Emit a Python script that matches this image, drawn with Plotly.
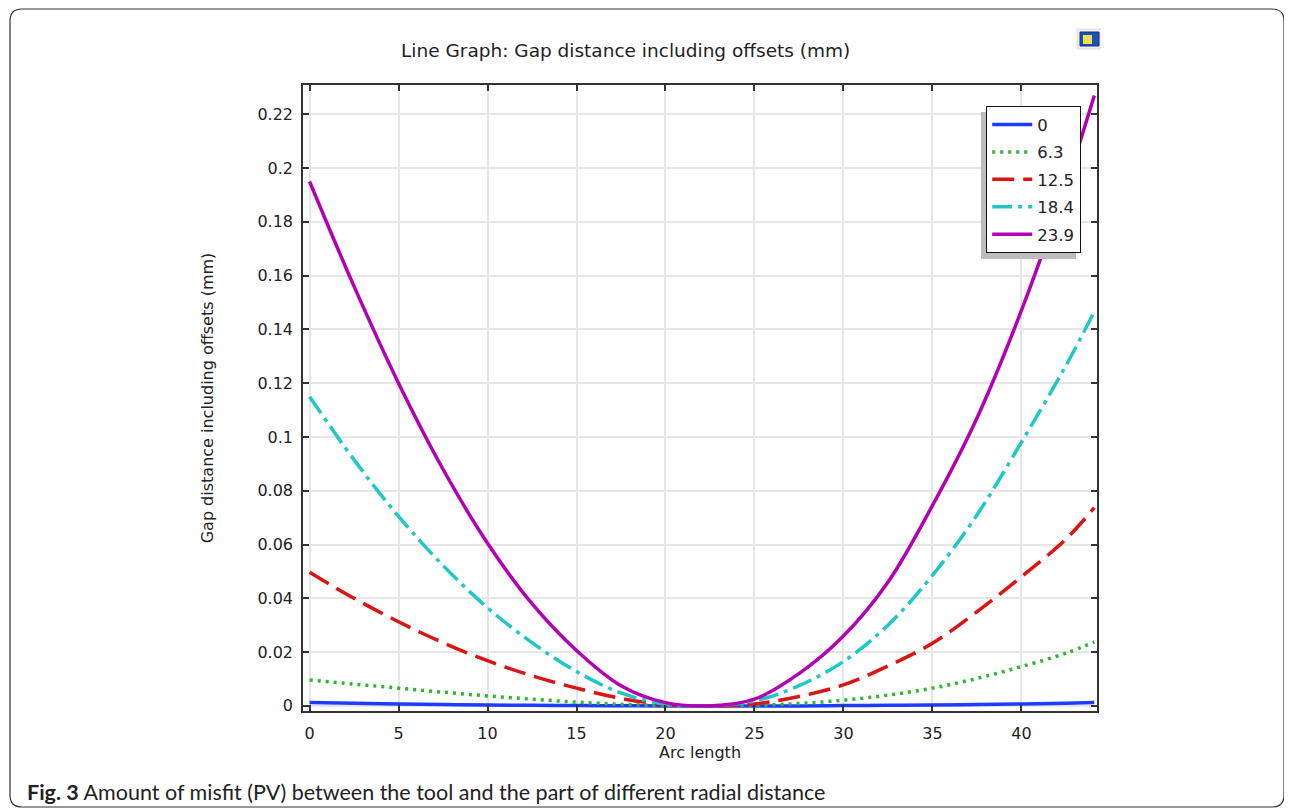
import plotly.graph_objects as go

# ---------------- data ----------------
arc_length = [0, 2.5, 5, 7.5, 10, 12.5, 15, 17.5, 20, 22.5, 25,
              27.5, 30, 32.5, 35, 37.5, 40, 42.5, 44.1]

series_names = ["0", "6.3", "12.5", "18.4", "23.9"]

gap_r0 = [0.0013, 0.0010, 0.0007, 0.0005, 0.0003, 0.0002, 0.0001, 0.00005, 0.0, 0.0, 0.0,
          0.0, 0.0001, 0.0002, 0.0003, 0.0005, 0.0007, 0.0010, 0.0013]
gap_r63 = [0.0096, 0.0081, 0.0066, 0.0051, 0.0037, 0.0025, 0.0014, 0.0006, 0.0001, 0.0, 0.0002,
           0.0009, 0.0021, 0.0040, 0.0066, 0.0102, 0.0146, 0.0196, 0.0238]
gap_r125 = [0.0497, 0.0400, 0.0313, 0.0235, 0.0168, 0.0112, 0.0066, 0.0028, 0.0005, 0.0, 0.0007,
            0.0035, 0.0078, 0.0148, 0.0233, 0.0350, 0.0480, 0.0620, 0.0737]
gap_r184 = [0.1150, 0.0915, 0.0705, 0.0522, 0.0365, 0.0235, 0.0128, 0.0048, 0.0006, 0.0, 0.0018,
            0.0075, 0.0165, 0.0300, 0.0485, 0.0710, 0.0980, 0.1265, 0.1466]
gap_r239 = [0.1950, 0.1560, 0.1200, 0.0880, 0.0605, 0.0380, 0.0206, 0.0075, 0.0012, 0.0, 0.0025,
            0.0120, 0.0260, 0.0460, 0.0745, 0.1070, 0.1470, 0.1935, 0.2270]

x_ticks = [0, 5, 10, 15, 20, 25, 30, 35, 40]
y_ticks = [0, 0.02, 0.04, 0.06, 0.08, 0.1, 0.12, 0.14, 0.16, 0.18, 0.2, 0.22]
y_tick_labels = ["0", "0.02", "0.04", "0.06", "0.08", "0.1", "0.12", "0.14", "0.16", "0.18", "0.2", "0.22"]

series_values = [gap_r0, gap_r63, gap_r125, gap_r184, gap_r239]

# ---------------- styles ----------------
colors = ["#1e3cff", "#2fb52f", "#dc1414", "#1ec8c8", "#b400b4"]
dashes = ["solid", "3px,5px", "22px,9px", "20px,6px,4px,6px", "solid"]

OFF = 8                      # page body margin of the html page
W, H = 1284, 802
ML, MR, MT, MB = 295, 195, 77, 99
PW, PH = W - ML - MR, H - MT - MB


def px(x):                   # page pixel -> paper x
    return (x - OFF - ML) / PW


def py(y):                   # page pixel -> paper y
    return (H - MB - (y - OFF)) / PH


fig = go.Figure()
for name, vals, c, d in zip(series_names, series_values, colors, dashes):
    fig.add_trace(go.Scatter(
        x=arc_length, y=vals, mode="lines", name=name, legendgroup=name,
        line=dict(color=c, width=3.5, dash=d, shape="spline", smoothing=1.0),
    ))

FONT = "DejaVu Sans"
axis_common = dict(
    showline=True, linecolor="#333333", linewidth=1.5, mirror="ticks",
    ticks="inside", ticklen=6, tickcolor="#333333", tickwidth=1.5,
    showgrid=True, gridcolor="#e6e6e6", gridwidth=1.5, zeroline=False,
    tickfont=dict(family=FONT, size=16, color="#222222"),
)

fig.update_layout(
    width=W, height=H,
    margin=dict(l=ML, r=MR, t=MT, b=MB),
    paper_bgcolor="white", plot_bgcolor="white",
    font=dict(family=FONT, size=16, color="#222222"),
    xaxis=dict(range=[-0.37, 44.25], tickvals=x_ticks,
               title=dict(text="Arc length", standoff=4,
                          font=dict(family=FONT, size=16, color="#222222")),
               ticklabelstandoff=7, **axis_common),
    yaxis=dict(range=[-0.0019, 0.2309], tickvals=y_ticks, ticktext=y_tick_labels,
               title=dict(text="Gap distance including offsets (mm)", standoff=40,
                          font=dict(family=FONT, size=16, color="#222222")),
               ticklabelstandoff=5, **axis_common),
    legend=dict(x=px(1081), y=py(106), xanchor="right", yanchor="top",
                bgcolor="white", bordercolor="#111111", borderwidth=1.2,
                font=dict(family=FONT, size=16.5, color="#222222"),
                tracegroupgap=3, itemwidth=40),
    showlegend=True,
)

# plot title
fig.add_annotation(xref="paper", yref="paper", x=px(625), y=py(50),
                   text="Line Graph: Gap distance including offsets (mm)", showarrow=False,
                   font=dict(family=FONT, size=18.5, color="#222222"),
                   xanchor="center", yanchor="middle")

# caption
fig.add_annotation(xref="paper", yref="paper", x=px(25), y=py(792),
                   text="<b>Fig. 3</b> Amount of misfit (PV) between the tool and the part of different radial distance",
                   showarrow=False, font=dict(family="Lato", size=21.5, color="#222222"),
                   xanchor="left", yanchor="middle")

# legend shadow
fig.add_shape(type="rect", xref="paper", yref="paper",
              x0=px(981), x1=px(1076), y0=py(112), y1=py(259),
              fillcolor="#bdbdbd", line=dict(width=0), layer="above")

# outer rounded frame
x0, x1, y0, y1, r = 10, 1284, 9, 807, 12
path = (f"M {px(x0 + r)} {py(y0)} L {px(x1 - r)} {py(y0)} "
        f"Q {px(x1)} {py(y0)} {px(x1)} {py(y0 + r)} "
        f"L {px(x1)} {py(y1 - r)} Q {px(x1)} {py(y1)} {px(x1 - r)} {py(y1)} "
        f"L {px(x0 + r)} {py(y1)} Q {px(x0)} {py(y1)} {px(x0)} {py(y1 - r)} "
        f"L {px(x0)} {py(y0 + r)} Q {px(x0)} {py(y0)} {px(x0 + r)} {py(y0)} Z")
fig.add_shape(type="path", xref="paper", yref="paper", path=path,
              line=dict(color="#333333", width=1.2))

# small icon top-right
fig.add_shape(type="rect", xref="paper", yref="paper",
              x0=px(1077), x1=px(1100), y0=py(29), y1=py(49),
              fillcolor="#f0f0f0", line=dict(color="#dddddd", width=1))
fig.add_shape(type="rect", xref="paper", yref="paper",
              x0=px(1080), x1=px(1099), y0=py(32), y1=py(46),
              fillcolor="#1f4fb8", line=dict(color="#14327a", width=1))
fig.add_shape(type="rect", xref="paper", yref="paper",
              x0=px(1083), x1=px(1092), y0=py(35), y1=py(44),
              fillcolor="#f2e04a", line=dict(width=0))

fig.write_html("out.html")
